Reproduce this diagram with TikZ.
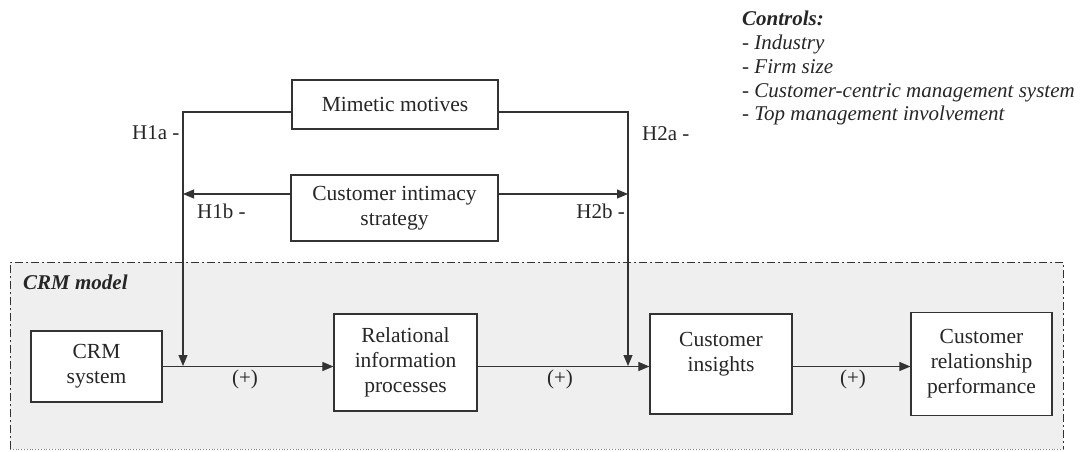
\documentclass[tikz,border=0pt]{standalone}
\usepackage{fontspec}
\setmainfont{Liberation Serif}
\usetikzlibrary{arrows.meta}
\definecolor{ln}{HTML}{333333}
\definecolor{txt}{HTML}{262626}
\definecolor{regionfill}{HTML}{EFEFEF}
\begin{document}
\begin{tikzpicture}[x=1pt,y=-1pt,
 box/.style={draw=ln, line width=1.2pt, fill=white, align=center, inner sep=0pt,
   font=\fontsize{21.5}{25}\selectfont, text=txt},
 conn/.style={draw=ln, line width=1.1pt},
 arr/.style={conn, -{Triangle[length=11pt,width=9pt]}},
 lab/.style={font=\fontsize{21}{24}\selectfont, text=txt, inner sep=0pt},
]
\useasboundingbox (0,0) rectangle (1086,451);

% CRM model region
\fill[regionfill] (10,262) rectangle (1063,449);
\draw[ln, line width=0.9pt, dash pattern=on 8pt off 3pt on 2pt off 3pt]
  (10,449) -- (10,262) -- (1063,262) -- (1063,449);
\draw[gray, line width=0.8pt, dotted] (10,449) -- (1063,449);
\node[lab, anchor=west, font=\fontsize{21}{24}\selectfont\bfseries\itshape] (crmmodel) at (23,282) {CRM model};

% Boxes
\node[box, minimum width=206pt, minimum height=49pt] (mim) at (395,104.5) {Mimetic motives};
\node[box, minimum width=207pt, minimum height=66pt] (cis) at (394.5,208) {Customer intimacy\\strategy};
\node[box, minimum width=131pt, minimum height=71pt] (crm) at (96.5,366.5) {CRM\\system};
\node[box, minimum width=143pt, minimum height=97pt] (rip) at (405.5,362.5) {Relational\\information\\processes};
\node[box, minimum width=142pt, minimum height=100pt] (ci) at (721,364) {Customer\\insights\\\mbox{}};
\node[box, minimum width=141pt, minimum height=103pt] (crp) at (981.5,364) {Customer\\relationship\\performance};

% Junction coordinates
\coordinate (h1top) at (183,112);
\coordinate (h2top) at (628,112);
\coordinate (h1mid) at (183,194);
\coordinate (h2mid) at (628,194);
\coordinate (h1end) at (183,366);
\coordinate (h2end) at (628,366);

% Moderating connectors
\draw[arr] (mim.west |- h1top) -- (h1top) -- (h1end);
\draw[arr] (mim.east |- h2top) -- (h2top) -- (h2end);
\draw[arr] (cis.west |- h1mid) -- (h1mid);
\draw[arr] (cis.east |- h2mid) -- (h2mid);

% Main path
\draw[arr] (crm.east) -- (crm.east -| rip.west);
\draw[arr] (rip.east |- crm.east) -- (ci.west |- crm.east);
\draw[arr] (ci.east |- crm.east) -- (crp.west |- crm.east);

% Labels
\node[lab, anchor=west] (h1a) at (132,133) {H1a -};
\node[lab, anchor=west] (h2a) at (642,134) {H2a -};
\node[lab, anchor=west] (h1b) at (197,211) {H1b -};
\node[lab, anchor=east] (h2b) at (625,211) {H2b -};
\node[lab] (p1) at (245,379) {(+)};
\node[lab] (p2) at (560,379) {(+)};
\node[lab] (p3) at (853,379) {(+)};

% Controls
\node[lab, anchor=north west, align=left, font=\fontsize{21}{23.8}\selectfont\itshape] (controls) at (742,11)
  {\textbf{Controls:}\\- Industry\\- Firm size\\- Customer-centric management system\\- Top management involvement};
\end{tikzpicture}
\end{document}
